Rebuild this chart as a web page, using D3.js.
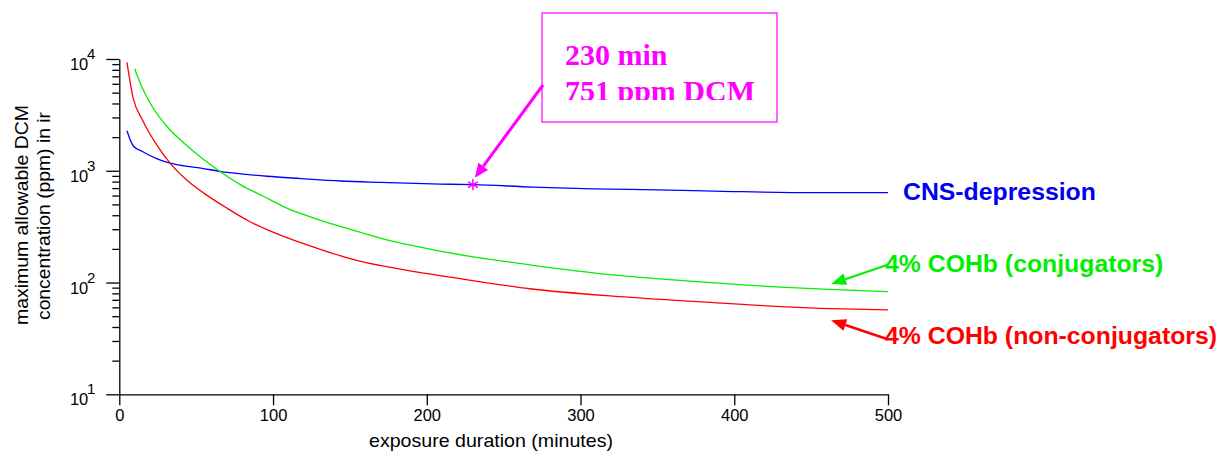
<!DOCTYPE html>
<html>
<head>
<meta charset="utf-8">
<script src="https://cdn.jsdelivr.net/npm/d3@7"></script>
<style>
    body { margin: 0; background: #fff; }
    svg { display: block; font-family: "Liberation Sans", Arial, Helvetica, sans-serif; }
</style>
</head>
<body>
<div class="my_div"></div>
<script>
// CNS-depression curve (blue)
var cnsTime = [5, 9, 15, 25, 33, 42, 53, 66, 79, 96, 118, 144, 170, 209, 230, 269, 308, 350, 399, 453, 500];
var cnsPpm = [2280, 1675, 1486, 1271, 1172, 1107, 1057, 984, 939, 893, 852, 810, 787, 760, 751, 715, 689, 675, 652, 638, 638];

// 4% COHb, conjugators (green)
var conjTime = [10, 15, 20, 31, 42, 53, 66, 79, 94, 109, 128, 150, 172, 194, 215, 267, 321, 376, 430, 470, 500];
var conjPpm = [8180, 5500, 4035, 2490, 1770, 1320, 975, 748, 588, 463, 372, 300, 245, 210, 184, 144, 117, 102, 91, 86, 83];

// 4% COHb, non-conjugators (red)
var nonConjTime = [5, 9, 15, 25, 33, 45, 55, 70, 85, 98, 109, 128, 150, 172, 194, 215, 267, 321, 376, 430, 470, 500];
var nonConjPpm = [9340, 4480, 2860, 1650, 1172, 802, 631, 463, 350, 290, 252, 204, 164, 140, 124, 112, 88, 75.5, 67.5, 61, 58, 57];

// Axis ticks
var xTicks = [0, 100, 200, 300, 400, 500];
var yMajor = [10, 100, 1000, 10000];

// Highlighted point and label texts
var markTime = 230, markPpm = 751;
var boxLines = ["230 min", "751 ppm DCM"];
var labels = ["CNS-depression", "4% COHb (conjugators)", "4% COHb (non-conjugators)"];

var width = 1223,
    height = 455;

var xScale = d3.scaleLinear()
    .domain([0, 500])
    .range([119.3, 888]);

var yScale = d3.scaleLog()
    .domain([10, 10000])
    .range([394.3, 59]);

var svg = d3.select(".my_div")
    .append("svg")
    .attr("width", width)
    .attr("height", height);

// minor ticks 2..9 in every decade
var yMinor = [];
yMajor.slice(0, 3).forEach((p) => {
    for (var k = 2; k <= 9; k++) yMinor.push(p * k);
});

// x axis
var gx = svg.append("g")
    .attr("transform", "translate(0," + yScale(10) + ")")
    .call(d3.axisBottom(xScale).tickValues(xTicks).tickSize(11).tickPadding(4).tickSizeOuter(0))
gx.selectAll("path, line").attr("stroke", "#000").attr("stroke-width", 1.3)
gx.selectAll("text").attr("font-size", "16.5px").attr("fill", "#000")
    .attr("font-family", "Liberation Sans, Arial, sans-serif")

// y axis: major and minor ticks, labels drawn by hand as 10^n
var gy = svg.append("g")
    .attr("transform", "translate(" + xScale(0) + ",0)")
    .call(d3.axisLeft(yScale).tickValues(yMajor.concat(yMinor)).tickFormat("").tickSizeOuter(0))
gy.selectAll("path").attr("stroke", "#000").attr("stroke-width", 1.3)
gy.selectAll(".tick line")
    .attr("stroke", "#000")
    .attr("stroke-width", 1.3)
    .attr("x2", (d) => { return yMajor.indexOf(d) >= 0 ? -13 : -7 })

var ylab = gy.selectAll(".exp")
    .data(yMajor)
    .enter()
    .append("g")
    .attr("transform", (d) => { return "translate(0," + yScale(d) + ")" })
ylab.append("text")
    .text("10")
    .attr("x", -31)
    .attr("y", 11)
    .attr("text-anchor", "end")
    .attr("font-size", "16.5px")
    .attr("font-family", "Liberation Sans, Arial, sans-serif")
    .attr("fill", "#000")
ylab.append("text")
    .text((d) => { return Math.round(Math.log10(d)) })
    .attr("x", -24)
    .attr("y", 0)
    .attr("font-size", "15px")
    .attr("font-family", "Liberation Sans, Arial, sans-serif")
    .attr("fill", "#000")

// axis titles
svg.append("text")
    .text("exposure duration (minutes)")
    .attr("x", 491)
    .attr("y", 447)
    .attr("text-anchor", "middle")
    .attr("font-size", "19px")
    .attr("textLength", 244)
    .attr("lengthAdjust", "spacingAndGlyphs")
    .attr("fill", "#000")

var yt = svg.append("g")
    .attr("transform", "translate(0,215) rotate(-90)")
yt.append("text")
    .text("maximum allowable DCM")
    .attr("x", 0)
    .attr("y", 28)
    .attr("text-anchor", "middle")
    .attr("font-size", "19px")
    .attr("textLength", 220)
    .attr("lengthAdjust", "spacingAndGlyphs")
    .attr("fill", "#000")
yt.append("text")
    .text("concentration (ppm) in ir")
    .attr("x", -1)
    .attr("y", 50)
    .attr("text-anchor", "middle")
    .attr("font-size", "19px")
    .attr("textLength", 208)
    .attr("lengthAdjust", "spacingAndGlyphs")
    .attr("fill", "#000")

// the three curves
var line = d3.line()
    .x((d) => { return xScale(d[0]) })
    .y((d) => { return yScale(d[1]) })
    .curve(d3.curveMonotoneX)

var series = [
    { t: cnsTime, v: cnsPpm, color: "#0000ff" },
    { t: conjTime, v: conjPpm, color: "#00ee00" },
    { t: nonConjTime, v: nonConjPpm, color: "#ff0000" }
]

series.forEach((s) => {
    svg.append("path")
        .datum(d3.zip(s.t, s.v))
        .attr("d", line)
        .attr("fill", "none")
        .attr("stroke", s.color)
        .attr("stroke-width", 1.3)
})

// arrowhead helper: line from (x1,y1) to tip (x2,y2) with filled head
function arrow(x1, y1, x2, y2, color, w, headLen, headW) {
    var ang = Math.atan2(y2 - y1, x2 - x1);
    var bx = x2 - headLen * Math.cos(ang),
        by = y2 - headLen * Math.sin(ang);
    var px = -Math.sin(ang) * headW / 2,
        py = Math.cos(ang) * headW / 2;
    svg.append("line")
        .attr("x1", x1).attr("y1", y1)
        .attr("x2", bx).attr("y2", by)
        .attr("stroke", color)
        .attr("stroke-width", w)
    svg.append("path")
        .attr("d", "M" + x2 + "," + y2 + "L" + (bx + px) + "," + (by + py) + "L" + (bx - px) + "," + (by - py) + "Z")
        .attr("fill", color)
}

// magenta annotation box
var box = { x: 542, y: 13, w: 235, h: 109 };
svg.append("defs").append("clipPath")
    .attr("id", "boxclip")
    .append("rect")
    .attr("x", box.x).attr("y", box.y)
    .attr("width", box.w).attr("height", 100 - box.y)

svg.append("rect")
    .attr("x", box.x).attr("y", box.y)
    .attr("width", box.w).attr("height", box.h)
    .attr("fill", "none")
    .attr("stroke", "#ff33ff")
    .attr("stroke-width", 1.5)

svg.append("g")
    .attr("clip-path", "url(#boxclip)")
    .selectAll("text")
    .data(boxLines)
    .enter()
    .append("text")
    .text((d) => { return d })
    .attr("x", 565)
    .attr("y", (d, i) => { return 65 + i * 36 })
    .attr("font-family", "Liberation Serif, Times New Roman, serif")
    .attr("font-weight", "bold")
    .attr("font-size", "30px")
    .attr("fill", "#ff00ff")

var mx = xScale(markTime), my = yScale(markPpm);
arrow(box.x + 1, 85, mx + 2, my - 7, "#ff00ff", 3, 14, 12)

svg.append("path")
    .attr("d", d3.symbol(d3.symbolAsterisk, 90)())
    .attr("transform", "translate(" + mx + "," + my + ")")
    .attr("fill", "none")
    .attr("stroke", "#ff00ff")
    .attr("stroke-width", 1.5)

// series labels on the right
var labelColor = ["#0000ee", "#00ee00", "#ff0000"];
var labelY = [200, 272, 344];
var labelX = [903, 885, 885];
svg.selectAll(".lbl")
    .data(labels)
    .enter()
    .append("text")
    .text((d) => { return d })
    .attr("x", (d, i) => { return labelX[i] })
    .attr("y", (d, i) => { return labelY[i] })
    .attr("font-weight", "bold")
    .attr("font-size", "24.8px")
    .attr("fill", (d, i) => { return labelColor[i] })

// pointer arrows for the two COHb labels
var tipX = xScale(463);
arrow(887, 265, tipX, yScale(97), "#00ee00", 2, 15, 12)
arrow(887, 339, tipX, yScale(46), "#ff0000", 2.5, 15, 12)
</script>
</body>
</html>
